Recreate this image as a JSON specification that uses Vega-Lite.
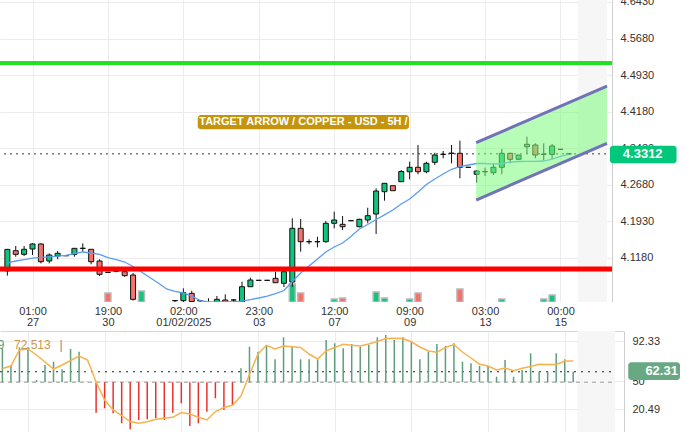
{
  "$schema": "https://vega.github.io/schema/vega-lite/v6.json",
  "autosize": {"type": "none"},
  "padding": {"left": 0, "top": 0, "right": 687, "bottom": 432},
  "bounds": "flush",
  "spacing": 29,
  "background": "white",
  "datasets": {
    "candles": [
      {"i":0,"o":4.091,"h":4.136,"l":4.081,"c":4.135,"ma":4.1075,"ind":84.65,"rsi":63.40},
      {"i":1,"o":4.1323,"h":4.142,"l":4.12,"c":4.1249,"ma":4.1112,"ind":67.08,"rsi":66.03},
      {"i":2,"o":4.1249,"h":4.142,"l":4.1214,"c":4.1352,"ma":4.1142,"ind":85.70,"rsi":82.86},
      {"i":3,"o":4.1358,"h":4.1475,"l":4.1235,"c":4.1461,"ma":4.1173,"ind":85.70,"rsi":83.91},
      {"i":4,"o":4.1461,"h":4.1475,"l":4.1064,"c":4.1097,"ma":4.1188,"ind":51.31,"rsi":77.60},
      {"i":5,"o":4.1112,"h":4.127,"l":4.1064,"c":4.1235,"ma":4.1198,"ind":67.08,"rsi":70.24},
      {"i":6,"o":4.1214,"h":4.1317,"l":4.1147,"c":4.127,"ma":4.1214,"ind":70.56,"rsi":62.88},
      {"i":7,"o":4.1222,"h":4.1222,"l":4.122,"c":4.122,"ma":4.1229,"ind":62.56,"rsi":67.08},
      {"i":8,"o":4.1249,"h":4.1372,"l":4.12,"c":4.1372,"ma":4.1266,"ind":83.91,"rsi":71.82},
      {"i":9,"o":4.137,"h":4.1475,"l":4.1303,"c":4.1374,"ma":4.1297,"ind":81.07,"rsi":76.55},
      {"i":10,"o":4.1352,"h":4.1352,"l":4.1044,"c":4.1097,"ma":4.1276,"ind":49.5,"rsi":72.34},
      {"i":11,"o":4.1112,"h":4.1147,"l":4.0804,"c":4.0838,"ma":4.1249,"ind":16.91,"rsi":49.20},
      {"i":12,"o":4.0882,"h":4.0882,"l":4.0878,"c":4.0878,"ma":4.1183,"ind":21.54,"rsi":30.27,"vol":9},
      {"i":13,"o":4.093,"h":4.095,"l":4.088,"c":4.09,"ma":4.1142,"ind":16.28,"rsi":19.75},
      {"i":14,"o":4.0892,"h":4.0927,"l":4.0789,"c":4.081,"ma":4.1091,"ind":5.76,"rsi":13.96},
      {"i":15,"o":4.0824,"h":4.0865,"l":4.03,"c":4.0325,"ma":4.0999,"ind":-0.55,"rsi":7.65},
      {"i":16,"o":4.015,"h":4.023,"l":4.005,"c":4.02,"ma":4.0886,"ind":9.23,"rsi":5.76,"vol":11},
      {"i":17,"o":4.02,"h":4.024,"l":4.01,"c":4.012,"ma":4.0773,"ind":9.97,"rsi":7.34},
      {"i":18,"o":4.012,"h":4.022,"l":4.008,"c":4.018,"ma":4.066,"ind":11.02,"rsi":9.97},
      {"i":19,"o":4.018,"h":4.025,"l":4.01,"c":4.022,"ma":4.0537,"ind":9.23,"rsi":11.02},
      {"i":20,"o":4.03,"h":4.031,"l":4.02,"c":4.0296,"ma":4.0486,"ind":16.91,"rsi":12.07},
      {"i":21,"o":4.0297,"h":4.0551,"l":4.025,"c":4.0461,"ma":4.0455,"ind":26.80,"rsi":17.12},
      {"i":22,"o":4.0448,"h":4.0502,"l":4.02,"c":4.028,"ma":4.0393,"ind":2.92,"rsi":15.54},
      {"i":23,"o":4.03,"h":4.031,"l":4.02,"c":4.0295,"ma":4.03,"ind":5.76,"rsi":12.07},
      {"i":24,"o":4.025,"h":4.0346,"l":4.018,"c":4.026,"ma":4.027,"ind":17.96,"rsi":9.23},
      {"i":25,"o":4.025,"h":4.0393,"l":4.02,"c":4.0325,"ma":4.027,"ind":32.06,"rsi":18.17},
      {"i":26,"o":4.0311,"h":4.0428,"l":4.02,"c":4.025,"ma":4.027,"ind":19.75,"rsi":22.38},
      {"i":27,"o":4.0312,"h":4.033,"l":4.025,"c":4.031,"ma":4.027,"ind":23.96,"rsi":24.69},
      {"i":28,"o":4.027,"h":4.0687,"l":4.022,"c":4.0584,"ma":4.029,"ind":63.61,"rsi":34.47},
      {"i":29,"o":4.0584,"h":4.0769,"l":4.058,"c":4.0722,"ma":4.0321,"ind":86.33,"rsi":57.09},
      {"i":30,"o":4.0716,"h":4.0716,"l":4.0714,"c":4.0714,"ma":4.0352,"ind":81.07,"rsi":78.65},
      {"i":31,"o":4.0716,"h":4.0716,"l":4.0714,"c":4.0714,"ma":4.0393,"ind":88.12,"rsi":87.81},
      {"i":32,"o":4.0756,"h":4.0892,"l":4.066,"c":4.0666,"ma":4.0444,"ind":73.08,"rsi":83.91},
      {"i":33,"o":4.0654,"h":4.0927,"l":4.0578,"c":4.0892,"ma":4.0506,"ind":96.22,"rsi":87.07},
      {"i":34,"o":4.068,"h":4.1989,"l":4.0578,"c":4.1783,"ma":4.0691,"ind":87.07,"rsi":86.33,"vol":18},
      {"i":35,"o":4.1783,"h":4.1974,"l":4.1303,"c":4.1508,"ma":4.0865,"ind":73.08,"rsi":85.49,"vol":9},
      {"i":36,"o":4.151,"h":4.1557,"l":4.1455,"c":4.1506,"ma":4.1009,"ind":73.08,"rsi":78.65},
      {"i":37,"o":4.1506,"h":4.1611,"l":4.1393,"c":4.151,"ma":4.1153,"ind":73.08,"rsi":73.40},
      {"i":38,"o":4.1508,"h":4.1933,"l":4.1487,"c":4.1886,"ma":4.1297,"ind":93.38,"rsi":82.02},
      {"i":39,"o":4.1886,"h":4.2124,"l":4.1783,"c":4.1954,"ma":4.1399,"ind":89.91,"rsi":85.49,"vol":3},
      {"i":40,"o":4.1865,"h":4.2036,"l":4.1748,"c":4.1816,"ma":4.1481,"ind":84.65,"rsi":88.86,"vol":4},
      {"i":41,"o":4.194,"h":4.194,"l":4.1938,"c":4.1938,"ma":4.1615,"ind":89.17,"rsi":87.91},
      {"i":42,"o":4.1816,"h":4.198,"l":4.1804,"c":4.1968,"ma":4.1769,"ind":86.33,"rsi":87.07},
      {"i":43,"o":4.1954,"h":4.2206,"l":4.1886,"c":4.2042,"ma":4.1861,"ind":88.12,"rsi":89.17},
      {"i":44,"o":4.2077,"h":4.2604,"l":4.1666,"c":4.2549,"ma":4.1964,"ind":96.22,"rsi":91.80,"vol":10},
      {"i":45,"o":4.2535,"h":4.2707,"l":4.235,"c":4.2707,"ma":4.206,"ind":98.64,"rsi":94.96,"vol":4},
      {"i":46,"o":4.2658,"h":4.2658,"l":4.2555,"c":4.2555,"ma":4.2159,"ind":93.38,"rsi":95.17},
      {"i":47,"o":4.274,"h":4.298,"l":4.2734,"c":4.2949,"ma":4.2282,"ind":96.22,"rsi":94.96},
      {"i":48,"o":4.2945,"h":4.3151,"l":4.2789,"c":4.3036,"ma":4.2385,"ind":91.59,"rsi":91.49,"vol":3},
      {"i":49,"o":4.3036,"h":4.3494,"l":4.2892,"c":4.2945,"ma":4.2528,"ind":73.08,"rsi":86.02,"vol":9},
      {"i":50,"o":4.2945,"h":4.3151,"l":4.2912,"c":4.3118,"ma":4.2683,"ind":81.07,"rsi":81.81},
      {"i":51,"o":4.3138,"h":4.3335,"l":4.3083,"c":4.3288,"ma":4.2795,"ind":89.17,"rsi":80.44},
      {"i":52,"o":4.33,"h":4.337,"l":4.3221,"c":4.3304,"ma":4.2898,"ind":87.07,"rsi":85.49},
      {"i":53,"o":4.3323,"h":4.3494,"l":4.3118,"c":4.3325,"ma":4.2995,"ind":89.91,"rsi":88.65},
      {"i":54,"o":4.3323,"h":4.3582,"l":4.281,"c":4.3036,"ma":4.3048,"ind":70.56,"rsi":80.75,"vol":13},
      {"i":55,"o":4.3037,"h":4.3037,"l":4.3035,"c":4.3035,"ma":4.3083,"ind":68.87,"rsi":74.45},
      {"i":56,"o":4.2892,"h":4.298,"l":4.2719,"c":4.296,"ma":4.3114,"ind":66.03,"rsi":67.93},
      {"i":57,"o":4.2944,"h":4.3027,"l":4.2857,"c":4.2948,"ma":4.3114,"ind":66.03,"rsi":66.03},
      {"i":58,"o":4.2925,"h":4.3118,"l":4.2878,"c":4.3036,"ma":4.3103,"ind":54.78,"rsi":61.83},
      {"i":59,"o":4.3036,"h":4.3411,"l":4.2892,"c":4.3323,"ma":4.3114,"ind":72.34,"rsi":63.93,"vol":3},
      {"i":60,"o":4.3323,"h":4.3335,"l":4.3118,"c":4.32,"ma":4.3144,"ind":54.78,"rsi":61.09},
      {"i":61,"o":4.32,"h":4.3288,"l":4.32,"c":4.3288,"ma":4.3155,"ind":61.83,"rsi":63.61},
      {"i":62,"o":4.3508,"h":4.3664,"l":4.3323,"c":4.3459,"ma":4.3159,"ind":79.39,"rsi":65.51},
      {"i":63,"o":4.3494,"h":4.3528,"l":4.3221,"c":4.3288,"ma":4.3159,"ind":60.04,"rsi":67.82},
      {"i":64,"o":4.3302,"h":4.3528,"l":4.3186,"c":4.3306,"ma":4.3165,"ind":60.04,"rsi":67.50,"vol":3},
      {"i":65,"o":4.3302,"h":4.3514,"l":4.32,"c":4.3473,"ma":4.3206,"ind":79.39,"rsi":67.61,"vol":7},
      {"i":66,"o":4.3406,"h":4.3406,"l":4.3404,"c":4.3404,"ma":4.3258,"ind":73.08,"rsi":71.29},
      {"i":67,"o":4.331,"h":4.333,"l":4.329,"c":4.3312,"ma":4.3302,"ind":60.04,"rsi":71.29}
    ],
    "hatchTop": [{"a": 68.05, "b": 71.55, "top": 4.6471, "bot": 4.027}],
    "hatchBot": [{"a": 67.5, "b": 71.9, "top": 102.85, "bot": -3.39}],
    "levels": [{"name": "resistance", "p": 4.5177}, {"name": "support", "p": 4.0947}],
    "last": [{"p": 4.3312}],
    "channel": [{"i": 55.94, "lo": 4.2364, "hi": 4.3541}, {"i": 71.55, "lo": 4.3528, "hi": 4.4705}],
    "titlebox": [{"x1": 22.72, "x2": 47.92, "y1": 4.4110, "y2": 4.3816, "xm": 35.33, "ym": 4.3961, "label": "TARGET ARROW / COPPER - USD - 5H /"}],
    "tag": [{"x1": 71.9, "x2": 79.85, "y1": 4.3479, "y2": 4.3118, "xm": 75.81, "ym": 4.3305, "label": "4.3312"}],
    "indlines": [{"k": "base", "v": 49, "a": -0.2817, "b": 71.9}, {"k": "dot", "v": 60, "a": -0.2817, "b": 71.9}],
    "indlabels": [{"k": "a", "x": 0.25, "v": 88.5, "t": "9"}, {"k": "b", "x": 1.36, "v": 88.5, "t": "72.513"}, {"k": "c", "x": 6.9, "v": 88.5, "t": "|"}],
    "indtag": [{"x1": 73.46, "x2": 79.53, "y1": 69.92, "y2": 51.31, "xm": 77.38, "ym": 60.3, "label": "62.31"}]
  },
  "vconcat": [
    {
      "width": 612,
      "height": 302,
      "layer": [
        {
          "data": {"name": "candles"},
          "transform": [{"filter": "datum.vol > 0"}],
          "mark": {"type": "bar", "width": 6, "stroke": "#b9b9b9", "strokeWidth": 1.5, "clip": true},
          "encoding": {
            "x": {"field": "i", "type": "quantitative", "scale": {"domain": [-0.2817, 71.55], "nice": false, "zero": false},
              "axis": {"values": [3, 12, 21, 30, 39, 48, 57, 66], "title": null, "ticks": false, "domain": false, "grid": true, "gridColor": "#ececec", "labelPadding": 3, "labelLineHeight": 11, "labelFontSize": 11, "labelColor": "#333", "labelFont": "Liberation Sans", "labelOverlap": false, "labelFlush": false,
                "labelExpr": "datum.value == 3 ? ['01:00','27'] : datum.value == 12 ? ['19:00','30'] : datum.value == 21 ? ['02:00','01/02/2025'] : datum.value == 30 ? ['23:00','03'] : datum.value == 39 ? ['12:00','07'] : datum.value == 48 ? ['09:00','09'] : datum.value == 57 ? ['03:00','13'] : ['00:00','15']"}},
            "y": {"field": "vol", "type": "quantitative", "scale": {"domain": [0, 302], "nice": false}, "axis": null},
            "fill": {"condition": {"test": "datum.c >= datum.o", "value": "#17c27a"}, "value": "#f4726a"}
          }
        },
        {
          "layer": [
            {
              "data": {"name": "hatchTop"},
              "mark": {"type": "rect", "fill": "#f6f6f6"},
              "encoding": {
                "x": {"field": "a", "type": "quantitative"},
                "x2": {"field": "b"},
                "y": {"field": "top", "type": "quantitative", "scale": {"domain": [4.027, 4.6471], "nice": false, "zero": false},
                  "axis": {"orient": "right", "values": [4.118, 4.193, 4.268, 4.343, 4.418, 4.493, 4.568, 4.643], "format": ".4f", "title": null, "ticks": false, "labelPadding": 8, "domain": true, "domainColor": "#d0d0d0", "grid": true, "gridColor": "#ececec", "labelFontSize": 11, "labelColor": "#333", "labelFont": "Liberation Sans", "labelOverlap": false, "labelFlush": false}},
                "y2": {"field": "bot"}
              }
            },
            {
              "data": {"name": "last"},
              "mark": {"type": "rule", "stroke": "#7a7a7a", "strokeWidth": 1.5, "strokeDash": [2, 4]},
              "encoding": {
                "y": {"field": "p", "type": "quantitative"}
              }
            },
            {
              "data": {"name": "candles"},
              "mark": {"type": "rule", "stroke": "#111", "strokeWidth": 1, "clip": true},
              "encoding": {
                "x": {"field": "i", "type": "quantitative"},
                "y": {"field": "l", "type": "quantitative"},
                "y2": {"field": "h"}
              }
            },
            {
              "data": {"name": "candles"},
              "mark": {"type": "bar", "width": 5, "stroke": "#111", "strokeWidth": 1, "clip": true},
              "encoding": {
                "x": {"field": "i", "type": "quantitative"},
                "y": {"field": "o", "type": "quantitative"},
                "y2": {"field": "c"},
                "fill": {"condition": [{"test": "abs(datum.c - datum.o) < 0.0008", "value": "#555555"}, {"test": "datum.c > datum.o", "value": "#0fc47c"}], "value": "#f4736b"}
              }
            },
            {
              "data": {"name": "candles"},
              "mark": {"type": "line", "stroke": "#5b9cf6", "strokeWidth": 1.3, "clip": true},
              "encoding": {
                "x": {"field": "i", "type": "quantitative"},
                "y": {"field": "ma", "type": "quantitative"}
              }
            },
            {
              "data": {"name": "channel"},
              "mark": {"type": "area", "fill": "#7cfc7c", "opacity": 0.55, "clip": true},
              "encoding": {
                "x": {"field": "i", "type": "quantitative"},
                "y": {"field": "lo", "type": "quantitative"},
                "y2": {"field": "hi"}
              }
            },
            {
              "data": {"name": "channel"},
              "mark": {"type": "line", "stroke": "#7272b8", "strokeWidth": 3, "clip": true},
              "encoding": {
                "x": {"field": "i", "type": "quantitative"},
                "y": {"field": "hi", "type": "quantitative"}
              }
            },
            {
              "data": {"name": "channel"},
              "mark": {"type": "line", "stroke": "#7272b8", "strokeWidth": 3, "clip": true},
              "encoding": {
                "x": {"field": "i", "type": "quantitative"},
                "y": {"field": "lo", "type": "quantitative"}
              }
            },
            {
              "data": {"name": "levels"},
              "transform": [{"filter": "datum.name == 'resistance'"}],
              "mark": {"type": "rule", "stroke": "#22e022", "strokeWidth": 4},
              "encoding": {"y": {"field": "p", "type": "quantitative"}}
            },
            {
              "data": {"name": "levels"},
              "transform": [{"filter": "datum.name == 'support'"}],
              "mark": {"type": "rule", "stroke": "#ff0000", "strokeWidth": 5},
              "encoding": {"y": {"field": "p", "type": "quantitative"}}
            },
            {
              "data": {"name": "titlebox"},
              "mark": {"type": "rect", "fill": "#c4950c", "cornerRadius": 3},
              "encoding": {
                "x": {"field": "x1", "type": "quantitative"},
                "x2": {"field": "x2"},
                "y": {"field": "y1", "type": "quantitative"},
                "y2": {"field": "y2"}
              }
            },
            {
              "data": {"name": "titlebox"},
              "mark": {"type": "text", "fill": "white", "fontWeight": "bold", "fontSize": 11, "font": "Liberation Sans", "align": "center", "baseline": "middle"},
              "encoding": {
                "x": {"field": "xm", "type": "quantitative"},
                "y": {"field": "ym", "type": "quantitative"},
                "text": {"field": "label", "type": "nominal"}
              }
            },
            {
              "data": {"name": "tag"},
              "mark": {"type": "rect", "fill": "#00c77a", "cornerRadius": 3},
              "encoding": {
                "x": {"field": "x1", "type": "quantitative"},
                "x2": {"field": "x2"},
                "y": {"field": "y1", "type": "quantitative"},
                "y2": {"field": "y2"}
              }
            },
            {
              "data": {"name": "tag"},
              "mark": {"type": "text", "fill": "white", "fontWeight": "bold", "fontSize": 13, "font": "Liberation Sans", "align": "center", "baseline": "middle"},
              "encoding": {
                "x": {"field": "xm", "type": "quantitative"},
                "y": {"field": "ym", "type": "quantitative"},
                "text": {"field": "label", "type": "nominal"}
              }
            }
          ]
        }
      ],
      "resolve": {"scale": {"y": "independent"}}
    },
    {
      "width": 624,
      "height": 101,
      "layer": [
        {
          "data": {"name": "hatchBot"},
          "mark": {"type": "rect", "fill": "#f6f6f6"},
          "encoding": {
            "x": {"field": "a", "type": "quantitative", "scale": {"domain": [-0.2817, 72.96], "nice": false, "zero": false},
              "axis": {"orient": "top", "values": [3, 12, 21, 30, 39, 48, 57, 66], "labels": false, "ticks": false, "domain": true, "domainColor": "#d6d6d6", "grid": true, "gridColor": "#ececec", "title": null}},
            "x2": {"field": "b"},
            "y": {"field": "top", "type": "quantitative", "scale": {"domain": [-3.39, 102.85], "nice": false, "zero": false},
              "axis": {"orient": "right", "values": [20.49, 50, 92.33], "labelExpr": "datum.value == 50 ? '50' : format(datum.value, '.2f')", "title": null, "ticks": false, "labelPadding": 8, "domain": true, "domainColor": "#d0d0d0", "grid": true, "gridColor": "#ececec", "labelFontSize": 11, "labelColor": "#333", "labelFont": "Liberation Sans"}},
            "y2": {"field": "bot"}
          }
        },
        {
          "data": {"name": "indlines"},
          "transform": [{"filter": "datum.k == 'base'"}],
          "mark": {"type": "rule", "stroke": "#9a9a9a", "strokeWidth": 1, "strokeDash": [4, 4]},
          "encoding": {
            "x": {"field": "a", "type": "quantitative"},
            "x2": {"field": "b"},
            "y": {"field": "v", "type": "quantitative"}
          }
        },
        {
          "data": {"name": "indlines"},
          "transform": [{"filter": "datum.k == 'dot'"}],
          "mark": {"type": "rule", "stroke": "#222", "strokeWidth": 1.2, "strokeDash": [2, 5]},
          "encoding": {
            "x": {"field": "a", "type": "quantitative"},
            "x2": {"field": "b"},
            "y": {"field": "v", "type": "quantitative"}
          }
        },
        {
          "data": {"name": "candles"},
          "mark": {"type": "rule", "strokeWidth": 1.5, "clip": true},
          "encoding": {
            "x": {"field": "i", "type": "quantitative"},
            "y": {"field": "ind", "type": "quantitative"},
            "y2": {"datum": 49},
            "stroke": {"condition": {"test": "datum.ind >= 49", "value": "#5e9e7b"}, "value": "#e8332d"}
          }
        },
        {
          "data": {"name": "candles"},
          "mark": {"type": "line", "stroke": "#f7b24e", "strokeWidth": 1.5, "clip": true},
          "encoding": {
            "x": {"field": "i", "type": "quantitative"},
            "y": {"field": "rsi", "type": "quantitative"}
          }
        },
        {
          "data": {"name": "indlabels"},
          "transform": [{"filter": "datum.k == 'a'"}],
          "mark": {"type": "text", "fill": "#5f9977", "fontSize": 12, "font": "Liberation Sans", "align": "right", "baseline": "middle"},
          "encoding": {
            "x": {"field": "x", "type": "quantitative"},
            "y": {"field": "v", "type": "quantitative"},
            "text": {"field": "t", "type": "nominal"}
          }
        },
        {
          "data": {"name": "indlabels"},
          "transform": [{"filter": "datum.k == 'b'"}],
          "mark": {"type": "text", "fill": "#c9974a", "fontSize": 12, "font": "Liberation Sans", "align": "left", "baseline": "middle"},
          "encoding": {
            "x": {"field": "x", "type": "quantitative"},
            "y": {"field": "v", "type": "quantitative"},
            "text": {"field": "t", "type": "nominal"}
          }
        },
        {
          "data": {"name": "indlabels"},
          "transform": [{"filter": "datum.k == 'c'"}],
          "mark": {"type": "text", "fill": "#888888", "fontSize": 12, "font": "Liberation Sans", "align": "center", "baseline": "middle"},
          "encoding": {
            "x": {"field": "x", "type": "quantitative"},
            "y": {"field": "v", "type": "quantitative"},
            "text": {"field": "t", "type": "nominal"}
          }
        },
        {
          "data": {"name": "indtag"},
          "mark": {"type": "rect", "fill": "#68a883", "cornerRadius": 3},
          "encoding": {
            "x": {"field": "x1", "type": "quantitative"},
            "x2": {"field": "x2"},
            "y": {"field": "y1", "type": "quantitative"},
            "y2": {"field": "y2"}
          }
        },
        {
          "data": {"name": "indtag"},
          "mark": {"type": "text", "fill": "white", "fontWeight": "bold", "fontSize": 13, "font": "Liberation Sans", "align": "center", "baseline": "middle"},
          "encoding": {
            "x": {"field": "xm", "type": "quantitative"},
            "y": {"field": "ym", "type": "quantitative"},
            "text": {"field": "label", "type": "nominal"}
          }
        }
      ]
    }
  ],
  "config": {
    "view": {"stroke": null},
    "axis": {"labelFont": "Liberation Sans"}
  }
}
